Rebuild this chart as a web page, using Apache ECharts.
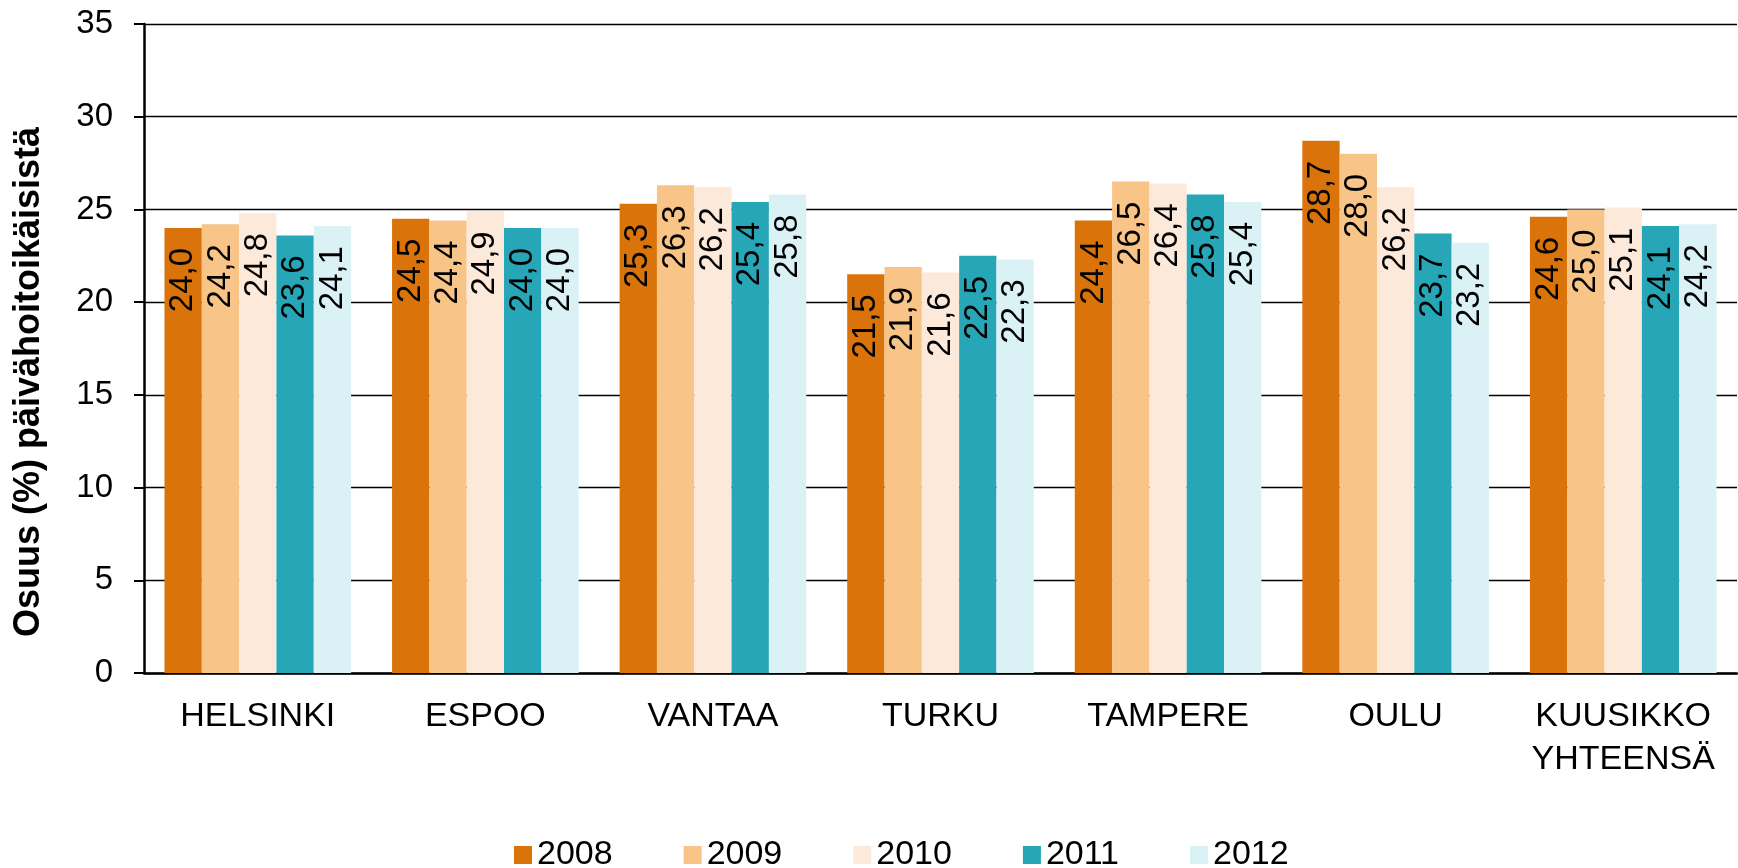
<!DOCTYPE html>
<html>
<head>
<meta charset="utf-8">
<script src="https://cdn.jsdelivr.net/npm/echarts@6/dist/echarts.min.js"></script>
<style>
  html, body { margin: 0; padding: 0; background: #fff; }
  #chart { width: 1738px; height: 868px; }
</style>
</head>
<body>
<div id="chart"></div>
<script>
const cities = ['HELSINKI', 'ESPOO', 'VANTAA', 'TURKU', 'TAMPERE', 'OULU', 'KUUSIKKO\nYHTEENSÄ'];
const years = ['2008', '2009', '2010', '2011', '2012'];
const colors = ['#D9730A', '#F8C487', '#FDE9DA', '#27A6B7', '#DAF2F5'];

// share per year, one value per city
const v2008 = [24.0, 24.5, 25.3, 21.5, 24.4, 28.7, 24.6];
const v2009 = [24.2, 24.4, 26.3, 21.9, 26.5, 28.0, 25.0];
const v2010 = [24.8, 24.9, 26.2, 21.6, 26.4, 26.2, 25.1];
const v2011 = [23.6, 24.0, 25.4, 22.5, 25.8, 23.7, 24.1];
const v2012 = [24.1, 24.0, 25.8, 22.3, 25.4, 23.2, 24.2];
const values = [v2008, v2009, v2010, v2011, v2012];

const font = 'Liberation Sans, Arial, sans-serif';

const chart = echarts.init(document.getElementById('chart'));

chart.setOption({
  animation: false,
  grid: { left: 144, right: 1, top: 24, bottom: 195, containLabel: false },
  legend: {
    left: 509,
    top: 833,
    itemWidth: 18,
    itemHeight: 18,
    itemGap: 71,
    icon: 'rect',
    textStyle: { fontFamily: font, fontSize: 34, color: '#000' },
    data: years
  },
  xAxis: {
    type: 'category',
    data: cities,
    axisLine: { lineStyle: { color: '#000', width: 2.5 } },
    axisTick: { show: false },
    axisLabel: { interval: 0, fontFamily: font, fontSize: 34, color: '#000', margin: 22, lineHeight: 43 }
  },
  yAxis: {
    type: 'value',
    min: 0,
    max: 35,
    interval: 5,
    name: 'Osuus (%) päivähoitoikäisistä',
    nameLocation: 'middle',
    nameGap: 97,
    nameTextStyle: { fontFamily: font, fontSize: 36, fontWeight: 'bold', color: '#000', padding: [0, 67, 0, 0] },
    axisLine: { show: true, lineStyle: { color: '#000', width: 2.5 } },
    axisTick: { show: true, length: 10, lineStyle: { color: '#000', width: 2 } },
    axisLabel: { fontFamily: font, fontSize: 33, color: '#000', margin: 31 },
    splitLine: { lineStyle: { color: '#000', width: 1.3 } }
  },
  series: years.map((y, i) => ({
    name: y,
    type: 'bar',
    data: values[i],
    barGap: '0%',
    barCategoryGap: '18%',
    itemStyle: { color: colors[i] },
    label: {
      show: true,
      position: 'insideTop',
      rotate: 90,
      align: 'right',
      verticalAlign: 'middle',
      distance: 20,
      fontFamily: font,
      fontSize: 33,
      color: '#000',
      formatter: p => p.value.toFixed(1).replace('.', ',')
    }
  }))
});
</script>
</body>
</html>
